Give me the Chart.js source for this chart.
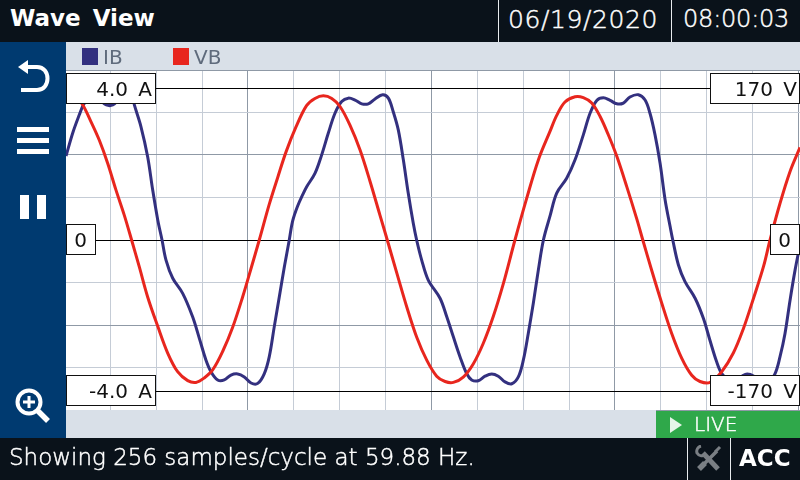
<!DOCTYPE html>
<html><head><meta charset="utf-8">
<script src="https://cdn.jsdelivr.net/npm/chart.js@4"></script>
<style>
html,body{margin:0;padding:0;background:#fff;overflow:hidden}
#wrap{position:relative;width:800px;height:480px;font-family:"DejaVu Sans",sans-serif}
canvas{position:absolute;left:0;top:0}
.bar{position:absolute;left:0;width:800px;height:42px;background:#0a121a}
.t{position:absolute;color:#fff;white-space:pre;line-height:1}
.l{font-weight:200;font-family:'DejaVu Sans ExtraLight','DejaVu Sans',sans-serif;-webkit-text-stroke:.45px #fff}
.sep{position:absolute;width:1px;background:#e8ebee}
.band{position:absolute;background:#d9e0e8}
#side{position:absolute;left:0;top:42px;width:66px;height:396px;background:#003a70}
svg{position:absolute}
</style></head><body>
<div id="wrap">
<canvas id="c" width="800" height="480"></canvas>
<div class="band" style="left:66px;top:410px;width:590px;height:28px"></div>
<div id="side"></div>
<div class="bar" style="top:0"></div>
<div class="bar" style="top:438px"></div>
<div class="t" style="left:10px;top:7px;font-size:23px;font-weight:bold;word-spacing:4px">Wave View</div>
<div class="sep" style="left:498px;top:0;height:42px"></div>
<div class="sep" style="left:671px;top:0;height:42px"></div>
<div class="t l" style="left:508px;top:7px;font-size:25px;letter-spacing:.6px">06/19/2020</div>
<div class="t l" style="left:683px;top:7px;font-size:24px;letter-spacing:-.2px">08:00:03</div>
<div class="t l" style="left:9px;top:446px;font-size:23px">Showing 256 samples/cycle at 59.88 Hz.</div>
<div class="sep" style="left:687px;top:438px;height:42px"></div>
<div class="sep" style="left:730px;top:438px;height:42px"></div>
<div class="t" style="left:739px;top:447px;font-size:23px;font-weight:bold">ACC</div>
<div style="position:absolute;left:656px;top:411px;width:144px;height:27px;background:#2fa84a"></div>
<div class="t l" style="left:694px;top:414px;font-size:20px">LIVE</div>
<svg style="left:669px;top:416px" width="14" height="18"><path d="M1 1 L13 9 L1 17 Z" fill="#e6f5e9"/></svg>
<svg style="left:16px;top:58px" width="36" height="36" fill="none" stroke="#fff" stroke-width="4"><path d="M5 32 H21 C35 32 35 9 21 9 H6"/><path d="M2 9 L12 2 V16 Z" fill="#fff" stroke="none"/></svg>
<svg style="left:17px;top:127px" width="32" height="28" fill="#fff"><rect y="0" width="32" height="5"/><rect y="11" width="32" height="5"/><rect y="22" width="32" height="5"/></svg>
<svg style="left:20px;top:195px" width="28" height="26" fill="#fff"><rect x="0" y="0" width="9" height="24"/><rect x="17" y="0" width="9" height="24"/></svg>
<svg style="left:14px;top:387px" width="38" height="38" fill="none" stroke="#fff"><circle cx="15" cy="15" r="11.5" stroke-width="4"/><path d="M9 15 H21 M15 9 V21" stroke-width="3"/><path d="M24 24 L34 34" stroke-width="5.5"/></svg>
<svg style="left:695px;top:445px" width="28" height="28" fill="none" stroke="#7a7f84"><path d="M8 8 L23 24" stroke-width="5"/><path d="M6 1 A5.5 5.5 0 0 0 2 8 A6 6 0 0 0 10 10" stroke-width="3"/><path d="M7 21 L22 6" stroke-width="3.5"/><path d="M4 24 L10 18" stroke-width="5.5"/><path d="M20 7 L25 2" stroke-width="3"/></svg>
</div>
<script>
const vbTimes=[0.10,0.49,0.88,1.19,1.73,2.28,2.83,3.37,3.91,4.39,4.89,5.44,6.10,6.75,7.40,8.06,8.60,9.14,9.69,10.35,11.00,11.65,12.20,12.74,13.39,13.94,14.49,15.14,15.83,16.38,16.93,17.48,18.02,18.67,19.33,19.98,20.63,21.11,21.73,22.38,23.03,23.69,24.34,24.89,25.43,26.08,26.74,27.39,28.04,28.70,29.46,30.23,30.99,31.75,32.19,32.73,33.39,33.93,34.48,35.02,35.57,36.12,36.77,37.42,37.82,38.40,39.06,39.71,40.37,41.02,41.56,42.22,42.98,43.74,44.39,45.05,45.71,46.14,46.79,47.45,48.10];
const vbVolts=[162,160,157,152,133,112,86,56,28,0,-30,-64,-97,-127,-148,-158,-160,-155,-146,-125,-98,-64,-32,0,40,70,99,127,151,159,162,159,150,129,101,66,28,0,-37,-75,-109,-135,-153,-159,-160,-154,-139,-116,-86,-49,0,47,90,122,140,155,161,160,154,139,118,94,60,24,0,-34,-71,-105,-133,-152,-159,-160,-148,-127,-100,-66,-30,0,41,77,104];
const ibTimes=[0.10,0.54,0.97,1.23,1.42,1.85,2.29,2.73,3.16,3.60,4.10,4.47,4.57,5.00,5.44,5.77,6.10,6.38,6.64,7.08,7.73,8.38,8.82,9.25,9.58,10.02,10.45,10.89,11.33,11.76,12.20,12.64,13.07,13.39,13.72,14.05,14.38,14.70,14.92,15.25,15.58,15.84,16.38,16.82,17.25,17.69,18.13,18.56,19.00,19.44,19.87,20.31,20.81,21.18,21.50,21.83,22.16,22.48,22.81,23.03,23.36,23.79,24.56,25.00,25.43,25.87,26.30,26.63,27.06,27.50,27.94,28.37,28.81,29.25,29.68,30.01,30.33,30.66,30.99,31.32,31.75,32.19,32.84,33.39,33.93,34.37,34.81,35.24,35.68,36.12,36.55,36.98,37.53,37.97,38.29,38.62,38.95,39.28,39.61,39.78,40.15,40.58,41.24,41.78,42.21,42.65,42.98,43.39,43.85,44.31,44.64,45.09,45.55,45.95,46.47,46.79,47.12,47.45,47.78,48.10];
const ibAmps=[2.22,2.83,3.31,3.57,3.66,3.75,3.70,3.57,3.57,3.73,3.84,3.75,3.57,3.00,2.20,1.32,0.53,0,-0.53,-1.01,-1.41,-2.03,-2.60,-3.17,-3.48,-3.70,-3.70,-3.57,-3.54,-3.62,-3.78,-3.79,-3.53,-3.09,-2.29,-1.50,-0.71,0,0.50,0.90,1.20,1.41,1.76,2.25,2.82,3.35,3.66,3.75,3.70,3.60,3.60,3.73,3.84,3.75,3.39,2.91,2.12,1.24,0.44,0,-0.53,-1.06,-1.54,-2.03,-2.56,-3.09,-3.53,-3.70,-3.72,-3.60,-3.54,-3.60,-3.75,-3.80,-3.62,-3.17,-2.47,-1.67,-0.79,0,0.63,1.24,1.63,2.12,2.78,3.35,3.69,3.76,3.69,3.60,3.62,3.78,3.84,3.70,3.35,2.78,2.03,1.06,0.35,0,-0.66,-1.10,-1.54,-2.07,-2.65,-3.22,-3.53,-3.68,-3.73,-3.60,-3.54,-3.60,-3.76,-3.81,-3.53,-3.09,-2.47,-1.59,-0.79,-0.13];
const seriesNames=['IB','VB'];
const seriesColors=['#33307f','#e8261e'];
const voltTicks=[170,0,-170];
const voltLabels=['170 V','0','-170 V'];
const ampTicks=[4,0,-4];
const ampLabels=['4.0 A','0','-4.0 A'];
const timeGridStepMs=3;
const voltGridStep=47.8;

const FONT="'DejaVu Sans ExtraLight','DejaVu Sans',sans-serif";
const overlay={id:'overlay',afterDraw(ch){
  const c=ch.ctx,{v,a}=ch.scales;
  c.save();
  c.fillStyle='#d9e0e8';c.fillRect(66,42,734,28);
  c.strokeStyle='#8f99a6';c.lineWidth=1;c.beginPath();c.moveTo(66,70.5);c.lineTo(800,70.5);c.stroke();
  const lx=[82,173];
  ch.data.datasets.forEach((d,i)=>{
    c.fillStyle=d.borderColor;c.fillRect(lx[i],48,16,17);
    c.fillStyle='#5f6b7c';c.font='20px '+FONT;c.textBaseline='alphabetic';c.textAlign='left';
    c.fillText(d.label,lx[i]+21,64);
  });
  c.wordSpacing='4px';c.font='20px '+FONT;
  const box=(x,y,w,h,t,right)=>{
    c.fillStyle='#fff';c.fillRect(x,y,w,h);
    c.strokeStyle='#111';c.lineWidth=1;c.strokeRect(x+.5,y+.5,w-1,h-1);
    c.fillStyle='#111';c.textAlign='right';c.textBaseline='alphabetic';
    c.fillText(t,x+w-(right),y+23);
  };
  ampTicks.forEach((val,i)=>{
    const y=Math.round(a.getPixelForValue(val));
    if(val===0) box(66,y-16,30,31,ampLabels[i],9);
    else box(66,y-16,90,31,ampLabels[i],4);
  });
  voltTicks.forEach((val,i)=>{
    const y=Math.round(v.getPixelForValue(val));
    if(val===0) box(770,y-16,30,31,voltLabels[i],9);
    else box(710,y-16,90,31,voltLabels[i],3);
  });
  c.restore();
}};

new Chart(document.getElementById('c'),{
  type:'line',
  data:{datasets:[
    {label:seriesNames[0],yAxisID:'a',data:ibTimes.map((x,i)=>({x,y:ibAmps[i]})),borderColor:seriesColors[0],backgroundColor:seriesColors[0],borderWidth:3,pointRadius:0,tension:.35,order:2},
    {label:seriesNames[1],yAxisID:'v',data:vbTimes.map((x,i)=>({x,y:vbVolts[i]})),borderColor:seriesColors[1],backgroundColor:seriesColors[1],borderWidth:3,pointRadius:0,tension:.35,order:1}
  ]},
  options:{
    responsive:false,animation:false,devicePixelRatio:1,
    layout:{padding:{left:66,top:70,right:0,bottom:70}},
    plugins:{legend:{display:false},tooltip:{enabled:false}},
    scales:{
      x:{type:'linear',min:0.1,max:48.1,border:{display:false},
        ticks:{display:false},afterFit(s){s.height=0;},
        afterBuildTicks(s){const t=[];for(let k=timeGridStepMs;k<48.1;k+=timeGridStepMs)t.push({value:k});s.ticks=t;},
        grid:{drawTicks:false,color:c=>(c.tick&&Math.round(c.tick.value)%12===0)?'#8f99a6':'#c5ccd6',lineWidth:1}},
      v:{type:'linear',position:'left',min:-191,max:191,border:{display:false},
        ticks:{display:false},afterFit(s){s.width=0;},
        afterBuildTicks(s){const t=[];for(let k=-4;k<=4;k++)t.push({value:k*voltGridStep});voltTicks.forEach(x=>{if(x!==0)t.push({value:x});});s.ticks=t;},
        grid:{drawTicks:false,lineWidth:1,color:c=>{const x=c.tick?c.tick.value:1;if(x===0||Math.abs(x)===170)return '#000';const k=Math.round(x/voltGridStep);return k%2===0?'#8f99a6':'#c5ccd6';}}},
      a:{type:'linear',position:'right',min:-4.494,max:4.494,display:true,border:{display:false},ticks:{display:false},afterFit(s){s.width=0;},grid:{display:false}}
    }
  },
  plugins:[overlay]
});
</script>
</body></html>
